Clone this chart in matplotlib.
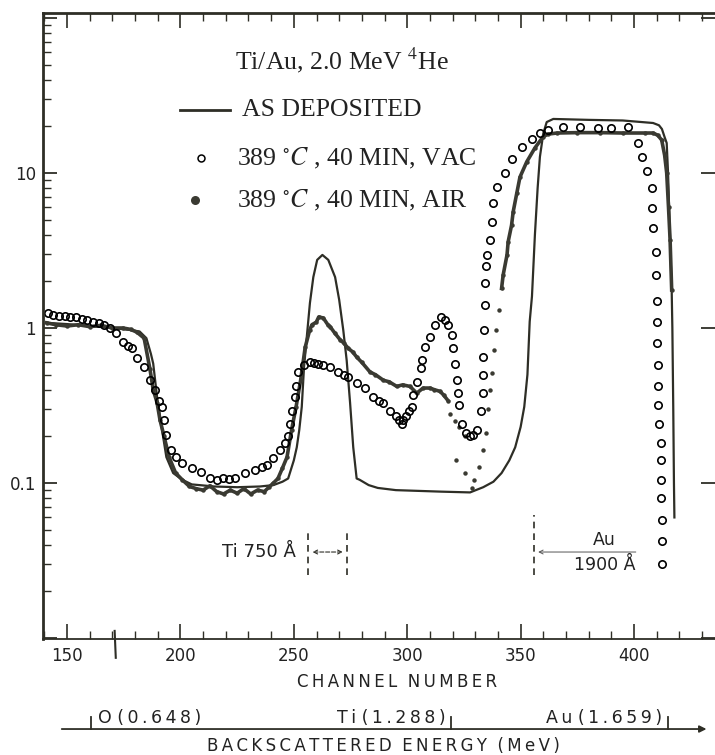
import numpy as np
import matplotlib.pyplot as plt
from matplotlib.transforms import blended_transform_factory

plt.rcParams['mathtext.fontset'] = 'stix'

# ---- data (channel, counts on log scale) ----
dep_ch = np.array([141, 150, 160, 170, 178, 182, 185, 187, 188, 189.7, 191.9, 193.8,
                   196.8, 200.8, 205, 215, 225, 235, 241, 245, 247.5, 250, 251.3,
                   252.4, 253.5, 254.5, 255.7, 257.1, 258.6, 260.3, 262.6, 265.2,
                   268.2, 270, 271.8, 273.3, 274.8, 276.2, 277.7, 279, 283, 287, 295,
                   305, 315, 327.7, 333.5, 338, 341.6, 345, 347.6, 350, 351.6, 353,
                   354, 355, 356.3, 357.5, 358.5, 360, 361.5, 364.4, 380, 395, 408.4,
                   411, 412.3, 413.5, 414.4, 415, 415.9, 416.6, 416.9, 417.3, 417.6,
                   417.8])
dep_val = np.array([1.08, 1.06, 1.03, 1.0, 0.97, 0.95, 0.86, 0.68, 0.59, 0.36, 0.22,
                    0.147, 0.116, 0.105, 0.098, 0.095, 0.094, 0.095, 0.097, 0.102,
                    0.107, 0.14, 0.17, 0.22, 0.31, 0.56, 0.87, 1.45, 2.13, 2.75, 2.96,
                    2.75, 2.13, 1.52, 0.97, 0.62, 0.33, 0.17, 0.107, 0.105, 0.097,
                    0.093, 0.09, 0.089, 0.088, 0.087, 0.094, 0.102, 0.116, 0.14, 0.17,
                    0.23, 0.31, 0.5, 1.1, 1.6, 4.0, 8.0, 12.7, 18.0, 21.3, 22.3, 22.0,
                    21.8, 21.0, 20.3, 19.2, 17.0, 15.6, 10.0, 3.7, 1.76, 1.0, 0.3, 0.1,
                    0.06])

vac_ch = np.array([141.6, 144, 146.5, 149, 151.5, 154, 156.5, 159, 161.5, 164, 166.5,
                   169, 171.5, 174.7, 177, 178.7, 180.8, 183.8, 186.6, 188.8, 190.5,
                   191.9, 192.8, 193.7, 195.9, 197.9, 200.8, 205, 209, 213, 216,
                   218.9, 221.5, 224, 228.5, 233, 236, 238, 241, 244, 246, 247.6,
                   248.3, 249, 250.5, 251, 252, 254.5, 257.1, 259, 260.8, 263, 266,
                   269.6, 272, 274, 277.7, 281.4, 285, 287.5, 289.5, 292.4, 295,
                   296.5, 297.5, 298.3, 299.5, 301, 302, 302.7, 304.5, 306, 306.4,
                   307.8, 310, 312.3, 314.7, 316.5, 318, 319.6, 320.3, 321, 321.8,
                   322.3, 323, 324, 326, 327.6, 329, 330.6, 332.5, 333.2, 333.5,
                   333.6, 333.8, 334.1, 334.3, 334.6, 335, 336.5, 337.2, 338, 339.6,
                   343, 346, 350.5, 354.9, 358.6, 362, 368.7, 376, 384, 390, 397.4,
                   401.7, 403.4, 405.7, 407.8, 408, 408.4, 409.7, 409.7, 410, 410.2,
                   410.3, 410.4, 410.5, 410.7, 410.9, 411.9, 411.9, 412, 412.1,
                   412.3, 412.4, 412.5])
vac_val = np.array([1.25, 1.22, 1.2, 1.2, 1.18, 1.17, 1.15, 1.12, 1.09, 1.07, 1.05,
                    1.0, 0.93, 0.81, 0.77, 0.74, 0.64, 0.56, 0.46, 0.40, 0.34, 0.31,
                    0.255, 0.204, 0.163, 0.147, 0.134, 0.125, 0.118, 0.107, 0.105,
                    0.107, 0.106, 0.107, 0.116, 0.122, 0.127, 0.13, 0.145, 0.163,
                    0.18, 0.2, 0.24, 0.29, 0.36, 0.42, 0.52, 0.58, 0.60, 0.595, 0.59,
                    0.575, 0.56, 0.52, 0.50, 0.48, 0.44, 0.41, 0.36, 0.34, 0.33, 0.29,
                    0.27, 0.255, 0.24, 0.255, 0.27, 0.29, 0.31, 0.37, 0.45, 0.55,
                    0.62, 0.75, 0.87, 1.05, 1.18, 1.12, 1.05, 0.90, 0.74, 0.59, 0.46,
                    0.38, 0.32, 0.24, 0.21, 0.20, 0.205, 0.22, 0.29, 0.38, 0.5, 0.65,
                    0.97, 1.41, 1.95, 2.5, 2.96, 3.7, 4.8, 6.4, 8.1, 10.0, 12.3, 14.7,
                    16.6, 18.1, 19.0, 19.8, 19.8, 19.5, 19.5, 19.8, 15.6, 12.7, 10.3,
                    8.0, 5.9, 4.4, 3.1, 2.2, 1.5, 1.09, 0.80, 0.58, 0.42, 0.32, 0.24,
                    0.18, 0.14, 0.105, 0.08, 0.058, 0.042, 0.030])

air_ch = np.array([141, 145, 150, 155, 160, 165, 170, 174.7, 178, 180.8, 184, 186.6,
                   188, 189.7, 191, 192.8, 195, 197.9, 200.8, 204, 207, 210, 213, 216,
                   219, 222, 225, 228, 231, 234, 237, 239, 241, 243, 245, 247, 249,
                   251, 253, 255, 257, 258, 259.9, 261, 263, 265, 266, 268, 270.4,
                   272, 274, 276, 277.7, 280, 283.6, 286, 289.5, 292, 295.4, 298,
                   301.2, 304.2, 307, 310, 312, 314.5, 316, 318, 319, 321, 323, 325.5,
                   321.5, 325.5, 328.6, 329.5, 331.6, 333.5, 334.6, 335.6, 336.5,
                   337.4, 338.4, 339.2, 340.5, 341.6, 342.3, 344, 344.5, 346, 346.7,
                   348.3, 349.7, 352.7, 356.3, 359.9, 362, 366, 375, 385, 395, 405,
                   408.4, 410.5, 412.2, 413.5, 414.4, 415.2, 415.9, 416.6])
air_val = np.array([1.08, 1.05, 1.03, 1.05, 1.02, 1.04, 1.0, 1.0, 0.98, 0.94, 0.86,
                    0.54, 0.40, 0.33, 0.255, 0.20, 0.147, 0.116, 0.105, 0.095, 0.092,
                    0.09, 0.096, 0.088, 0.085, 0.09, 0.086, 0.092, 0.085, 0.09, 0.088,
                    0.094, 0.1, 0.107, 0.125, 0.147, 0.22, 0.31, 0.46, 0.75, 0.97,
                    1.05, 1.09, 1.18, 1.16, 1.05, 1.02, 0.93, 0.84, 0.8, 0.74, 0.7,
                    0.65, 0.6, 0.52, 0.5, 0.46, 0.45, 0.42, 0.43, 0.42, 0.38, 0.41,
                    0.41, 0.4, 0.39, 0.37, 0.34, 0.28, 0.25, 0.23, 0.20, 0.14, 0.116,
                    0.093, 0.105, 0.127, 0.163, 0.21, 0.30, 0.40, 0.51, 0.72, 0.97,
                    1.3, 1.8, 2.2, 2.96, 3.6, 4.6, 5.6, 7.4, 9.4, 11.8, 14.5, 17.1,
                    17.8, 18.1, 18.2, 18.2, 18.1, 18.1, 18.1, 17.5, 16.3, 13.0, 10.0,
                    6.0, 3.7, 1.76])

x_major = [150, 200, 250, 300, 350, 400]
y_major = [0.01, 0.1, 1, 10, 100]
y_labels = ['', '0.1', '1', '10', '']

energy_labels = ['O (0.648)', 'Ti (1.288)', 'Au (1.659)']
energy_ch = [160.6, 319.3, 415.0]

ink = '#2e2e26'
txt = '#222222'


def spaced(s):
    # scanned lettering has wide tracking
    return '\u2009'.join(s)


fig = plt.figure(figsize=(7.15, 7.55), dpi=100)
ax = fig.add_axes([0.0601, 0.1536, 0.9399, 0.8292])
ax.set_yscale('log')
ax.set_xlim(139.4, 435.7)
ax.set_ylim(0.00986, 107.6)

# as deposited
ax.plot(dep_ch, dep_val, '-', color=ink, lw=1.6)
# air anneal: dense band drawn as thick trace, scattered part as dots
air_band = np.where((air_ch < 318.5) | (air_ch > 341), air_val, np.nan)
ax.plot(air_ch, air_band, '-', color='#3a3a32', lw=2.6)
ax.plot(air_ch, air_val, 'o', ms=3.2, color='#3a3a32', mec='none')
# vacuum anneal
ax.plot(vac_ch, vac_val, 'o', ms=5.3, mfc='none', mec='black', mew=1.2)

# axes styling
for side in ['left', 'top']:
    ax.spines[side].set_linewidth(2.0)
    ax.spines[side].set_color(ink)
ax.spines['bottom'].set_linewidth(1.3)
ax.spines['bottom'].set_color(ink)
ax.spines['right'].set_visible(False)

ax.set_xticks(x_major)
ax.set_xticks(np.arange(140, 436, 10), minor=True)
ax.set_xticklabels([str(v) for v in x_major], fontsize=12, color=txt)
ax.set_yticks(y_major)
ax.set_yticklabels(y_labels, fontsize=12, color=txt)
ax.yaxis.set_minor_locator(plt.matplotlib.ticker.LogLocator(subs=np.arange(2, 10)))
ax.yaxis.set_minor_formatter(plt.NullFormatter())
ax.tick_params(which='both', direction='in', top=True, color=ink)
ax.tick_params(axis='x', which='major', length=11, width=1.2, pad=6)
ax.tick_params(axis='x', which='minor', length=6, width=1.0)
ax.tick_params(axis='y', which='major', length=10, width=1.3, right=True, pad=5)
ax.tick_params(axis='y', which='minor', length=6, width=1.0, right=False)


# legend block
def px2ax(px, py):
    return (px - 43) / 672.0, (639 - py) / 626.0


serif = 'Liberation Serif'
lfs = 18.5
tx, ty = px2ax(235, 60)
ax.text(tx, ty, r'Ti/Au, 2.0 MeV $^{4}$He', transform=ax.transAxes, fontsize=lfs,
        family=serif, va='center', ha='left', color=txt)
x0, y0 = px2ax(180, 110)
x1, _ = px2ax(230, 110)
ax.plot([x0, x1], [y0, y0], '-', color=ink, lw=2, transform=ax.transAxes)
tx, _ = px2ax(242, 110)
ax.text(tx, y0, 'AS DEPOSITED', transform=ax.transAxes, fontsize=lfs, family=serif,
        va='center', ha='left', color=txt)
mx, my = px2ax(201, 158)
ax.plot([mx], [my], 'o', ms=5, mfc='none', mec='black', mew=1.1, transform=ax.transAxes)
tx, _ = px2ax(237, 158)
ax.text(tx, my, r'389 $^{\circ}\mathit{C}$ , 40 MIN, VAC', transform=ax.transAxes,
        fontsize=lfs, family=serif, va='center', ha='left', color=txt)
mx, my = px2ax(195, 200)
ax.plot([mx], [my], 'o', ms=6.5, color='#3a3a32', mec='none', transform=ax.transAxes)
tx, _ = px2ax(237, 200)
ax.text(tx, my, r'389 $^{\circ}\mathit{C}$ , 40 MIN, AIR', transform=ax.transAxes,
        fontsize=lfs, family=serif, va='center', ha='left', color=txt)

# layer thickness markers
dash = (0, (4, 3))
ax.vlines([256.3, 273.5], 0.0255, 0.048, colors=ink, linestyles=dash, lw=1.2)
ax.annotate('', xy=(257, 0.0359), xytext=(272.8, 0.0359),
            arrowprops=dict(arrowstyle='<->', lw=0.8, linestyle='--', color=ink,
                            mutation_scale=7))
ax.text(251, 0.0359, 'Ti 750 Å', fontsize=13, ha='right', va='center', color=txt)
ax.vlines([356], 0.0255, 0.0622, colors=ink, linestyles=dash, lw=1.2)
ax.annotate('', xy=(356.5, 0.0359), xytext=(402, 0.0359),
            arrowprops=dict(arrowstyle='->', lw=0.7, color='#555555', mutation_scale=7))
ax.text(386.8, 0.0428, 'Au', fontsize=12.5, ha='center', va='center', color=txt)
ax.text(387, 0.0298, '1900 Å', fontsize=12.5, ha='center', va='center', color=txt)

# small mark below the channel axis
ax.plot([171, 171.5], [0.013, -0.03], color=ink, lw=1.5,
        transform=blended_transform_factory(ax.transData, ax.transAxes), clip_on=False)

fig.text(0.555, 0.0967, spaced('CHANNEL') + '  ' + spaced('NUMBER'), fontsize=12,
         ha='center', va='center', color=txt)

# backscattered energy scale
bt = blended_transform_factory(ax.transData, fig.transFigure)
fig.add_artist(plt.matplotlib.patches.FancyArrowPatch(
    (0.0825, 0.0344), (0.992, 0.0344), transform=fig.transFigure,
    arrowstyle='-|>', mutation_scale=10, lw=1.3, color=ink))
for lab, ch in zip(energy_labels, energy_ch):
    fig.add_artist(plt.Line2D([ch, ch], [0.0344, 0.0504], transform=bt, color=ink, lw=1.3))
    name, val = lab.split(' ')
    shown = spaced(name) + ' ' + spaced(val)
    if lab.startswith('O'):
        fig.text(ch + 3, 0.0490, shown, transform=bt, fontsize=12.5, ha='left',
                 va='center', color=txt)
    else:
        fig.text(ch - 2.5, 0.0490, shown, transform=bt, fontsize=12.5, ha='right',
                 va='center', color=txt)
fig.text(0.536, 0.0115, spaced('BACKSCATTERED') + '  ' + spaced('ENERGY') + '  ' +
         spaced('(MeV)'), fontsize=12, ha='center', va='center', color=txt)

fig.savefig('out.png', dpi=100)
